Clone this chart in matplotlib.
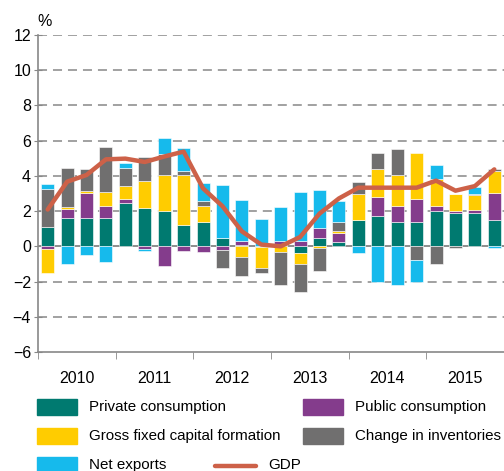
import matplotlib
matplotlib.use("Agg")
import matplotlib.pyplot as plt
from matplotlib.patches import Rectangle
from matplotlib.lines import Line2D
import numpy as np

plt.rcParams['font.family'] = ['Liberation Sans', 'DejaVu Sans']

#---------------------------     data     ---------------------------#

years = ['2010', '2011', '2012', '2013', '2014', '2015']

private = [1.1, 1.63, 1.63, 1.63, 2.47, 2.19, 2.0, 1.22, 1.37, 0.48, 0.1, -0.05,
           0.05, -0.38, 0.49, 0.27, 1.48, 1.75, 1.39, 1.39, 1.98, 1.88, 1.88, 1.5]
public = [-0.17, 0.49, 1.41, 0.68, 0.23, -0.17, -1.14, -0.27, -0.32, -0.23, 0.21, 0.0,
          0.25, 0.29, 0.55, 0.49, 0.0, 1.05, 0.89, 1.29, 0.3, 0.11, 0.17, 1.54]
gfcf = [-1.37, 0.11, 0.11, 0.76, 0.74, 1.52, 2.03, 2.81, 0.91, 0.0, -0.63, -1.2,
        -0.32, -0.61, -0.1, 0.13, 1.5, 1.58, 1.77, 2.6, 1.52, 0.99, 0.86, 1.24]
inventories = [2.13, 2.19, 1.22, 2.57, 0.99, 1.39, 1.2, 0.23, 0.3, -1.0, -1.06, -0.27,
               -1.9, -1.63, -1.29, 0.48, 0.68, 0.91, 1.46, -0.8, -1.0, -0.1, 0.06, 0.1]
net_exports = [0.29, -1.0, -0.48, -0.87, 0.29, -0.1, 0.91, 1.33, 1.0, 3.02, 2.34, 1.58,
               1.96, 2.8, 2.15, 1.22, -0.4, -2.03, -2.22, -1.24, 0.8, 0.0, 0.38, -0.1]
gdp = [2.09, 3.67, 4.05, 4.94, 4.98, 4.79, 5.1, 5.38, 3.29, 2.28, 0.85, 0.1,
       0.0, 0.53, 1.86, 2.72, 3.33, 3.33, 3.33, 3.33, 3.73, 3.16, 3.42, 4.37]

series = [('Private consumption', private, '#007A70'),
          ('Public consumption', public, '#843C8C'),
          ('Gross fixed capital formation', gfcf, '#FFCC00'),
          ('Change in inventories', inventories, '#706F6F'),
          ('Net exports', net_exports, '#16BAEC')]
gdp_color = '#CD6148'
grid_color = '#9A9A9A'

#---------------------------     plot     ---------------------------#

fig = plt.figure(figsize=(5.04, 4.71), dpi=100)
ax = fig.add_axes([38/504, 1-352/471, 1-38/504, (352-35)/471])

x = np.arange(len(gdp))
pos_base = np.zeros(len(x))
neg_base = np.zeros(len(x))
for name, vals, col in series:
    v = np.array(vals)
    bottom = np.where(v >= 0, pos_base, neg_base)
    ax.bar(x, v, 0.67, bottom=bottom, color=col, edgecolor='white',
           linewidth=0.4, zorder=3)
    pos_base += np.where(v >= 0, v, 0)
    neg_base += np.where(v < 0, v, 0)

ax.plot(x, gdp, color=gdp_color, lw=3.2, zorder=4, solid_capstyle='round')

ax.set_xlim(-0.5, 23.5)
ax.set_ylim(-6, 12)
ax.set_yticks(np.arange(-6, 13, 2))
for yv in np.arange(-4, 13, 2):
    if yv == 0:
        ax.axhline(0, color='#7A7A7A', lw=1.2, zorder=1)
    else:
        ax.axhline(yv, color=grid_color, lw=1.3, dashes=(5, 3.3), zorder=1)

ax.set_xticks(np.arange(1.5, 24, 4))
ax.set_xticklabels(years)
ax.set_xticks(np.arange(-0.5, 24, 4), minor=True)
ax.tick_params(axis='x', which='major', length=0, pad=14, labelsize=11.5)
ax.tick_params(axis='x', which='minor', length=5, direction='out', color='#888888')
ax.tick_params(axis='y', length=6, direction='inout', color='#888888', labelsize=11.5, pad=2)

for s in ['top', 'right']:
    ax.spines[s].set_visible(False)
for s in ['left', 'bottom']:
    ax.spines[s].set_color('#888888')
    ax.spines[s].set_linewidth(1.2)

fig.text(37/504, 1-22/471, '%', fontsize=11.5, va='center', ha='left')

# legend drawn by hand in figure pixels
def leg_patch(px, py, col, label):
    fig.patches.append(Rectangle((px/504, 1-(py+8)/471), 40/504, 16/471,
                                 color=col, transform=fig.transFigure))
    fig.text((px+52)/504, 1-py/471, label, fontsize=10.9, va='center', ha='left')

leg_patch(37, 407, series[0][2], series[0][0])
leg_patch(303, 407, series[1][2], series[1][0])
leg_patch(37, 436, series[2][2], series[2][0])
leg_patch(303, 436, series[3][2], series[3][0])
leg_patch(37, 465, series[4][2], series[4][0])
fig.lines.append(Line2D([215/504, 256/504], [1-466/471, 1-466/471], color=gdp_color,
                        lw=3.2, solid_capstyle='round', transform=fig.transFigure))
fig.text(268/504, 1-465/471, 'GDP', fontsize=10.9, va='center', ha='left')

plt.savefig('out.png', dpi=100)
